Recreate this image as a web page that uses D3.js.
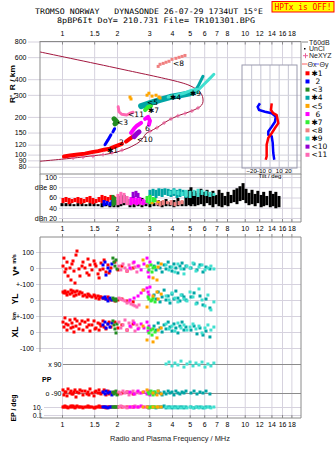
<!DOCTYPE html>
<html>
<head>
<meta charset="utf-8">
<script src="https://cdnjs.cloudflare.com/ajax/libs/d3/7.8.5/d3.min.js"></script>
<style>
  body { margin: 0; background: #fff; }
  svg { display: block; }
</style>
</head>
<body>
<div id="chart"></div>
<script>
// ---- axis values
const freqTicks = [1, 1.5, 2, 3, 4, 5, 6, 7, 8, 10, 12, 14, 16, 18]
const rangeTicks = [800, 600, 400, 300, 200, 150, 120, 100, 90, 80]
const ampTicks = [100, 80, 60, 40, 20]
const ampTickText = ["100", "dBe 80", "60", "40", "dBn 20"]
const tiltTicks = [-20, -10, 0, 10, 20]

// ---- echo groups
const clusterNames = ["✱1", "2", "<3", "✱4", "<5", "6", "✱7", "<8", "✱9", "<10", "<11"]
const clusterColors = ["#ff0000", "#0000ff", "#228b22", "#00a5a5", "#ffa500", "#ff00ff",
                       "#33ee33", "#f08080", "#40e0d0", "#9400d3", "#ff69b4"]

// ---- model profile [f MHz, R km] and NeXYZ points
const modelCurve = [[0.758, 660], [2.077, 484], [4.425, 378], [5.02, 355], [5.48, 330], [5.8, 304],
  [5.91, 278], [5.88, 256], [5.69, 241], [5.34, 229], [4.83, 216], [4.425, 207], [4.05, 196],
  [3.66, 181], [3.31, 164], [3.03, 153.5], [2.88, 147], [2.777, 136], [2.64, 125.6], [2.48, 118.9],
  [2.298, 112.6], [2.025, 105.6], [1.762, 100.9], [1.423, 97.3], [1.15, 93.8], [0.758, 88.5]]
const neXYZ = [[1.15, 94], [1.303, 95.5], [1.478, 97], [1.677, 100], [1.876, 103.7], [2.129, 108.5],
  [3.03, 153.5], [3.31, 164], [3.62, 179], [3.95, 193], [4.31, 204], [4.71, 213], [5.14, 223], [5.55, 236]]

// ---- ionogram traces [f MHz, R' km], one list of segments per group
const trace1 = [[[1.025, 96.4], [1.106, 98.2], [1.223, 100], [1.336, 101.8], [1.459, 104.7], [1.575, 106.6],
  [1.698, 109.5], [1.83, 111.6], [1.975, 117], [2.129, 122]],
  [[2.24, 127], [2.356, 134], [2.477, 141], [2.57, 147]]]
const trace2 = [[[1.719, 120], [1.785, 131], [1.853, 144]], [[1.9, 152], [1.94, 161]]]
const trace3 = [[[1.925, 193], [2.0, 182], [1.949, 176]]]
const trace4 = [[[2.71, 244], [3.03, 258], [3.44, 273], [3.9, 288], [4.42, 298], [5.02, 309], [5.41, 321]],
  [[5.28, 315], [5.55, 351], [5.76, 392], [5.91, 422]]]
const trace5 = [[[2.356, 288], [2.386, 278], [2.92, 298], [2.99, 309], [3.11, 293], [3.27, 298], [3.39, 288], [3.44, 283]]]
const trace6 = [[[2.386, 149], [2.48, 161], [2.57, 170], [2.71, 179]],
  [[2.85, 193], [2.958, 200], [3.03, 186], [2.99, 173]]]
const trace7 = [[[2.85, 227], [2.958, 240], [3.07, 244]]]
const trace8 = [[[3.36, 506], [3.44, 526], [3.58, 535], [3.71, 546], [3.85, 556], [4.0, 576], [4.2, 587],
  [4.37, 598], [4.54, 608], [4.71, 619]]]
const trace9 = [[[3.81, 288], [4.2, 298], [4.65, 309], [5.14, 327], [5.55, 333]],
  [[5.41, 315], [5.91, 358], [6.37, 399], [6.78, 438]]]
const trace10 = [[[2.48, 139], [2.57, 147], [2.64, 152]]]
const trace11 = [[[2.03, 241], [2.05, 220], [2.12, 210], [2.26, 207], [2.356, 214], [2.45, 218]]]
const echoLabelAt = [[1.762, 108.5], [2.05, 125], [2.0, 181], [3.9, 286], [2.92, 260], [2.85, 162],
  [2.958, 225], [4.05, 535], [5.02, 306], [2.57, 133], [2.3, 209]]

// ---- amplitude [f MHz, low dB, high dB]
const ampNoise = [[1.0, 43, 49], [1.052, 43, 49], [1.106, 43, 49], [1.163, 43, 47], [1.223, 43, 49],
  [1.287, 43, 49], [1.353, 43, 47], [1.423, 43, 49], [1.497, 43, 49], [1.575, 43, 47], [1.656, 41, 49],
  [1.741, 43, 49], [1.83, 41, 47], [1.925, 41, 49], [2.025, 41, 55], [2.1, 43, 63], [2.185, 45, 65],
  [2.356, 41, 57], [2.48, 41, 53], [2.607, 43, 55], [2.74, 41, 59], [2.88, 43, 51], [3.03, 41, 51],
  [3.19, 43, 49], [3.36, 43, 55], [3.53, 41, 53], [3.71, 43, 57], [3.9, 43, 51], [4.1, 41, 55],
  [4.31, 43, 59], [4.54, 43, 53], [4.77, 43, 63], [4.96, 45, 75], [5.08, 43, 80], [5.21, 47, 71],
  [5.34, 43, 73], [5.55, 45, 69], [5.76, 47, 77], [5.99, 43, 71], [6.22, 49, 75], [6.45, 45, 67],
  [6.7, 41, 73], [6.96, 47, 65], [7.23, 43, 75], [7.51, 41, 69], [7.8, 45, 63], [8.1, 43, 71],
  [8.41, 49, 65], [8.74, 51, 75], [9.07, 47, 78], [9.42, 53, 82], [9.79, 55, 88], [10.16, 49, 77],
  [10.55, 45, 69], [10.96, 47, 75], [11.4, 43, 67], [11.8, 49, 73], [12.3, 41, 65], [12.7, 43, 71],
  [13.2, 45, 63], [13.8, 41, 73], [14.3, 43, 67], [14.8, 39, 71], [15.4, 41, 63]]
const amp1 = [[1.013, 49, 59], [1.052, 51, 61], [1.093, 47, 59], [1.134, 49, 57], [1.178, 51, 59],
  [1.223, 49, 61], [1.27, 47, 59], [1.32, 49, 57], [1.37, 51, 61], [1.423, 49, 63], [1.477, 47, 59],
  [1.535, 49, 57], [1.595, 51, 61], [1.656, 49, 65], [1.719, 53, 63], [1.785, 51, 61], [1.853, 55, 65],
  [1.925, 53, 63]]
const amp2 = [[1.698, 43, 55], [1.762, 45, 53], [1.83, 43, 51], [1.876, 45, 55]]
const amp3 = [[1.9, 43, 65], [1.95, 45, 61]]
const amp4 = [[3.03, 61, 75], [3.15, 63, 77], [3.27, 59, 75], [3.39, 63, 78], [3.53, 61, 77], [3.66, 65, 78],
  [3.81, 63, 77], [3.95, 61, 75], [4.1, 63, 78], [4.26, 59, 75], [4.42, 61, 77], [4.6, 63, 75], [4.77, 59, 73]]
const amp5 = [[3.11, 47, 51], [3.36, 49, 53]]
const amp6 = [[2.386, 45, 61], [2.48, 47, 63], [2.57, 45, 59], [2.67, 47, 61], [2.78, 45, 57], [2.88, 47, 55]]
const amp7 = [[2.92, 49, 63], [3.03, 47, 65], [3.15, 49, 61], [3.23, 51, 59]]
const amp8 = [[3.31, 45, 55], [3.44, 43, 53], [3.58, 45, 55], [3.77, 47, 53], [3.95, 45, 55], [4.15, 43, 51],
  [4.37, 45, 53], [4.54, 47, 55]]
const amp9 = [[3.9, 65, 73], [4.1, 67, 76], [4.31, 65, 73], [4.54, 63, 71], [4.77, 61, 75], [5.02, 59, 73],
  [5.28, 63, 75], [5.55, 61, 77], [5.84, 65, 75], [6.14, 63, 73], [6.45, 61, 71], [6.78, 63, 69]]
const amp10 = [[2.45, 59, 71], [2.54, 61, 73], [2.607, 59, 69]]
const amp11 = [[2.025, 45, 67], [2.1, 47, 71], [2.185, 49, 69], [2.27, 45, 63], [2.356, 45, 57],
  [2.45, 47, 59], [2.54, 45, 55], [2.64, 47, 57], [2.74, 45, 53]]

// ---- echo parameters [f MHz, V* m/s, YL km, XL km, PP deg, EP deg]
const echoes1 = [[1.013, 12, 50, 62, -71, 10], [1.025, 62, 44, 31, -102, 10], [1.038, -25, 56, 88, -84, 18],
  [1.052, -6, 44, 50, -84, 10], [1.065, 37, 31, 12, -108, 10], [1.079, -50, 50, 44, -65, 6],
  [1.106, 0, 37, 75, -90, 10], [1.12, -75, 62, 25, -78, 18], [1.134, 25, 44, 56, -96, 10],
  [1.149, 44, 56, 31, -96, 18], [1.163, -19, 25, 0, -84, 10], [1.178, -94, 50, 81, -71, 6],
  [1.193, 81, 31, 37, -115, 10], [1.208, 106, 56, 69, -84, 18], [1.239, -6, 37, 19, -90, 10],
  [1.254, -50, 50, 50, -71, 10], [1.287, 12, 44, 69, -78, 10], [1.303, 37, 25, 12, -102, 6],
  [1.336, 0, 31, 62, -78, 10], [1.37, -31, 19, 31, -96, 10], [1.388, 56, 37, 75, -84, 18],
  [1.405, -44, 31, 44, -102, 10], [1.423, 19, 25, 6, -65, 10], [1.459, -12, 19, 44, -90, 10],
  [1.497, 44, 31, 69, -108, 6], [1.516, 25, 25, 19, -84, 6], [1.535, 12, 12, 25, -78, 10],
  [1.575, -37, 25, 56, -90, 10], [1.595, -62, 6, 12, -71, 18], [1.615, -12, 19, 50, -90, 10],
  [1.635, 31, 19, 37, -96, 10], [1.677, -6, 12, 69, -84, 10], [1.7, 50, 12, 31, -71, 10],
  [1.741, -25, 6, 19, -102, 6], [1.785, 19, 19, 50, -78, 10], [1.81, -31, 6, 62, -96, 10],
  [1.853, 0, 0, 31, -90, 10], [1.949, 37, -6, 62, -84, 10], [2.025, -12, 0, 25, -96, 10],
  [2.129, 12, 6, 44, -90, 10], [2.27, -19, -6, 12, -84, 10], [2.45, 0, -12, 50, -96, 10]]
const echoes2 = [[1.677, 19, 12, 44, -84, 10], [1.719, 37, 19, 62, -96, 10], [1.741, -44, 6, 25, -78, 10],
  [1.785, 0, -6, 50, -90, 6], [1.83, -19, 12, 31, -84, 10], [1.876, 25, 0, 56, -102, 10]]
const echoes3 = [[1.9, 62, 12, 69, -84, 10], [1.925, 37, 0, 44, -96, 10], [1.949, 12, 6, 19, -90, 10],
  [1.975, 50, -6, -6, -78, 10], [2.0, -6, 6, 50, -102, 10]]
const echoes4 = [[3.19, 12, 31, 37, -84, 10], [3.27, -12, 6, 12, -96, 6], [3.36, 31, 50, 56, -78, 10],
  [3.44, 0, -12, 25, -90, 10], [3.53, -25, 19, 0, -102, 10], [3.62, 19, 62, 44, -84, 18],
  [3.71, -6, 0, 19, -96, 6], [3.81, 37, 25, 62, -78, 10], [3.9, 6, -19, 31, -90, 10],
  [4.0, -19, 37, 6, -84, 6], [4.1, 25, 6, 50, -102, 10], [4.2, 0, 56, 25, -78, 10],
  [4.31, -31, 12, -6, -90, 6], [4.42, 12, -6, 37, -96, 10], [4.54, 31, 31, 62, -84, 10],
  [4.65, -6, 19, 12, -90, 6], [4.77, 12, 0, 31, -78, 10], [5.08, 0, 19, 12, -90, 10],
  [5.28, 25, 44, 37, -78, 6], [5.48, -12, -19, -12, -96, 10], [5.69, 19, 25, 25, -84, 10],
  [5.91, -25, -31, -19, -90, 6], [6.14, 6, 6, 6, -78, 10], [6.45, -6, -50, -31, -96, 10]]
const echoes5 = [[2.777, 50, 62, 37, -84, 10], [2.92, 12, -44, -50, -71, 10], [3.15, -62, 25, -62, -90, 10],
  [3.31, -75, 50, -37, -102, 10], [3.36, 6, 6, 12, -78, 10], [3.49, 25, 37, 25, -96, 10]]
const echoes6 = [[2.356, 0, 0, 37, -84, 10], [2.48, 37, 12, 56, -96, 10], [2.607, 12, 25, 19, -78, 10],
  [2.71, -12, 44, 50, -90, 18], [2.81, 25, 62, 25, -84, 10], [2.92, 62, 75, 62, -96, 10],
  [2.958, -25, 50, 6, -90, 10], [2.99, -56, 31, 37, -78, 6], [3.03, 37, 81, 19, -102, 10]]
const echoes7 = [[2.958, 12, 19, 25, -84, 10], [2.99, -12, 6, -6, -96, 6], [3.07, 19, -6, 12, -78, 10],
  [3.11, -25, 0, -19, -90, 10], [3.15, 0, 12, 19, -102, 10], [3.23, 6, -12, 0, -84, 10]]
const echoes9 = [[3.71, 19, 25, 50, 90, 10], [3.85, -12, 0, 19, 102, 6], [4.0, 6, 44, 37, 78, 10],
  [4.15, -25, 12, 6, 96, 6], [4.31, 25, -12, 56, 84, 10], [4.48, -6, 31, 25, 108, 6],
  [4.65, -37, 6, 44, 71, 10], [4.83, 12, -6, 12, 90, 6], [5.02, 0, 50, 31, 102, 10],
  [5.21, 31, 19, 50, 78, 6], [5.41, -19, -25, 19, 96, 10], [5.62, 6, 69, 37, 84, 6],
  [5.84, 19, 0, -6, 102, 10], [6.06, -12, -37, 25, 71, 6], [6.29, 0, 31, 44, 90, 10],
  [6.53, 12, -62, 12, 78, 6], [6.78, -6, -12, 31, 96, 10]]
const echoes11 = [[2.05, 12, 12, 62, -84, 10], [2.1, -12, 6, 25, -96, 18], [2.157, 25, 0, 44, -78, 10],
  [2.212, 0, -6, 75, -90, 10], [2.27, -19, -19, 12, -84, 6], [2.327, 19, -12, 56, -102, 10],
  [2.386, -6, -25, 31, -90, 10], [2.45, 31, -31, 69, -78, 10], [2.509, 6, -37, 6, -96, 18],
  [2.57, -25, -44, 44, -84, 10], [2.64, 12, -31, 25, -90, 10]]

// ---- tilt profiles [tilt deg, R km]
const tiltX = [[2.4, 257], [1.6, 227], [4.1, 214], [7.8, 207], [8.9, 189], [9.6, 178], [6, 163],
  [2.4, 148], [-1.3, 136], [-3.1, 120], [-3.1, 106], [-3.1, 97], [-4.1, 91]]
const tiltY = [[-10.4, 257], [-12.9, 241], [-11.4, 227], [-4.9, 220], [2.4, 214], [6.8, 201], [6, 183],
  [2.4, 167], [-1.3, 153], [-1.3, 144], [2.4, 140], [3.5, 124], [4.1, 103], [5.2, 91]]

// ================= drawing =================
const width = 335
const height = 451
const gridColor = "#d6d2de"
const frameColor = "#8a8a8a"
const sansFont = "'Liberation Sans', Arial, sans-serif"

const svg = d3.select("#chart").append("svg")
    .attr("width", width)
    .attr("height", height)
    .style("font-family", sansFont)

const x = d3.scaleLog().domain([0.758, 20.32]).range([40, 301])
const yR = d3.scaleLog().domain([70, 800]).range([174, 41.5])
const yAmp = d3.scaleLinear().domain([20, 100]).range([218, 177])
const yV = d3.scaleLinear().domain([-100, 100]).range([284, 252])
const yYL = d3.scaleLinear().domain([-100, 100]).range([316, 284])
const yXL = d3.scaleLinear().domain([-100, 100]).range([348, 316])
const yPP = d3.scaleLinear().domain([-90, 90]).range([393, 364])
const yEP = d3.scaleLog().domain([0.1, 10]).range([415, 407])
const xTilt = d3.scaleLinear().domain([-30, 30]).range([242, 297])

function styleAxis(g, size, lineColor) {
    g.attr("font-family", sansFont).attr("font-size", size)
    g.select(".domain").remove()
    g.selectAll(".tick line").attr("stroke", lineColor)
    g.selectAll(".tick text").attr("fill", "#000")
}

// vertical grid lines for the three panels
;[[41.5, 174], [174, 222], [237, 418]].forEach(([top, bottom]) => {
    svg.append("g")
        .attr("transform", `translate(0,${bottom})`)
        .call(d3.axisBottom(x).tickValues(freqTicks).tickFormat("").tickSizeInner(-(bottom - top)).tickSizeOuter(0))
        .call(g => styleAxis(g, 7, gridColor))
})

// horizontal grid + labels, upper panel
svg.append("g")
    .attr("transform", "translate(301,0)")
    .call(d3.axisLeft(yR).tickValues(rangeTicks).tickFormat(d => d).tickSize(273).tickPadding(1.5))
    .call(g => styleAxis(g, 7, gridColor))

// amplitude panel
svg.append("g")
    .attr("transform", "translate(301,0)")
    .call(d3.axisLeft(yAmp).tickValues(ampTicks).tickFormat((d, i) => ampTickText[i]).tickSize(242).tickPadding(2))
    .call(g => styleAxis(g, 7, gridColor))

// lower panels
svg.append("g")
    .attr("transform", "translate(301,0)")
    .call(d3.axisLeft(yV).tickValues([100, 0, -100]).tickFormat(d => d === -100 ? "+-100" : d).tickSize(265).tickPadding(2))
    .call(g => styleAxis(g, 7, gridColor))
svg.append("g")
    .attr("transform", "translate(301,0)")
    .call(d3.axisLeft(yYL).tickValues([0]).tickFormat(d => d).tickSize(265).tickPadding(2))
    .call(g => styleAxis(g, 7, gridColor))
svg.append("g")
    .attr("transform", "translate(301,0)")
    .call(d3.axisLeft(yXL).tickValues([100, 0, -100]).tickFormat(d => d === 100 ? "+-100" : d).tickSize(265).tickPadding(2))
    .call(g => styleAxis(g, 7, gridColor))
svg.append("g")
    .attr("transform", "translate(301,0)")
    .call(d3.axisLeft(yPP).tickValues([90, -90]).tickFormat(d => d > 0 ? "x 90" : "o -90").tickSize(238).tickPadding(1.5))
    .call(g => styleAxis(g, 7, "#8c8c8c"))
svg.append("g")
    .attr("transform", "translate(301,0)")
    .call(d3.axisLeft(yEP).tickValues([10, 0.1]).tickFormat(d => d === 10 ? "10." : "0.1").tickSize(257).tickPadding(1.5))
    .call(g => styleAxis(g, 7, gridColor))

// frames
const frame = svg.append("g").attr("stroke", frameColor).attr("fill", "none")
frame.append("rect").attr("x", 40).attr("y", 41.5).attr("width", 261).attr("height", 132.5)
frame.append("polyline").attr("points", "40,174 40,222 301,222 301,174")
frame.append("polyline").attr("points", "40,352 40,237 301,237 301,418 40,418 40,410")

// frequency tick labels and short ticks
function freqAxis(axisGen, y, pad, withText) {
    svg.append("g")
        .attr("transform", `translate(0,${y})`)
        .call(axisGen(x).tickValues(freqTicks).tickFormat(d => withText ? String(d) : "").tickSizeInner(-3).tickSizeOuter(0).tickPadding(pad))
        .call(g => styleAxis(g, 7, frameColor))
}
freqAxis(d3.axisTop, 41.5, 6, true)
freqAxis(d3.axisBottom, 222, 4, true)
freqAxis(d3.axisBottom, 237, 0, false)
freqAxis(d3.axisBottom, 418, 4.5, true)

// ---- model profile and NeXYZ markers
const modelLine = d3.line().x(d => x(d[0])).y(d => yR(d[1])).curve(d3.curveCatmullRom.alpha(0.5))
svg.append("path")
    .attr("d", modelLine(modelCurve))
    .attr("fill", "none")
    .attr("stroke", "#a3173f")
    .attr("stroke-width", 1)

svg.append("g").selectAll("path")
    .data(neXYZ)
    .join("path")
    .attr("d", d => `M${x(d[0]) - 2},${yR(d[1])}h4M${x(d[0])},${yR(d[1]) - 2}v4`)
    .attr("stroke", "#e8609a")
    .attr("stroke-width", 1)

// ---- ionogram traces
const traces = [trace1, trace2, trace3, trace4, trace5, trace6, trace7, trace8, trace9, trace10, trace11]
const traceWidths = [[4, 4], [3, 3], [5], [6, 3], [0], [4, 4], [4], [0], [3, 3], [5], [3]]
const traceOrder = [0, 1, 2, 10, 5, 9, 3, 8, 4, 6, 7]
const traceLine = d3.line().x(d => x(d[0])).y(d => yR(d[1]))
const ionoG = svg.append("g")
traceOrder.forEach(i => {
    traces[i].forEach((seg, j) => {
        const w = traceWidths[i][j]
        if (w > 0) {
            ionoG.append("path")
                .attr("d", traceLine(seg))
                .attr("fill", "none")
                .attr("stroke", clusterColors[i])
                .attr("stroke-width", w)
                .attr("stroke-linejoin", "round")
                .attr("stroke-linecap", "round")
        } else {
            ionoG.append("g").selectAll("rect")
                .data(seg)
                .join("rect")
                .attr("x", d => x(d[0]) - 1.5)
                .attr("y", d => yR(d[1]) - 1.5)
                .attr("width", 3)
                .attr("height", 3)
                .attr("fill", clusterColors[i])
        }
    })
})

svg.append("g").selectAll("text")
    .data(echoLabelAt)
    .join("text")
    .attr("x", d => x(d[0]))
    .attr("y", d => yR(d[1]))
    .attr("dy", "0.35em")
    .style("font-family", "'DejaVu Sans', sans-serif")
    .style("font-size", "7.5px")
    .attr("fill", "#000")
    .text((d, i) => clusterNames[i])

// ---- amplitude panel
const amps = [amp1, amp2, amp3, amp4, amp5, amp6, amp7, amp8, amp9, amp10, amp11]
function ampBars(data, color) {
    svg.append("g").selectAll("rect")
        .data(data)
        .join("rect")
        .attr("x", d => x(d[0]) - 1.5)
        .attr("y", d => yAmp(d[2]))
        .attr("width", 3)
        .attr("height", d => yAmp(d[1]) - yAmp(d[2]))
        .attr("fill", color)
}
ampBars(ampNoise, "#000")
;[0, 1, 2, 10, 5, 9, 7, 3, 8, 6, 4].forEach(i => ampBars(amps[i], clusterColors[i]))

// ---- lower scatter panels
const echoes = [echoes1, echoes2, echoes3, echoes4, echoes5, echoes6, echoes7, null, echoes9, null, echoes11]
const paramScales = [yV, yYL, yXL, yPP, yEP]
const lowerG = svg.append("g")
;[0, 1, 2, 10, 5, 3, 8, 6, 4].forEach(i => {
    paramScales.forEach((scale, k) => {
        lowerG.append("g").selectAll("rect")
            .data(echoes[i])
            .join("rect")
            .attr("x", d => x(d[0]) - 1.5)
            .attr("y", d => scale(d[k + 1]) - 1.5)
            .attr("width", 3)
            .attr("height", 3)
            .attr("fill", clusterColors[i])
    })
})

// ---- tilt inset
const inset = svg.append("g")
inset.append("rect")
    .attr("x", 242).attr("y", 65).attr("width", 55).attr("height", 103)
    .attr("fill", "#fff")
inset.append("g")
    .attr("transform", "translate(0,168)")
    .call(d3.axisBottom(xTilt).tickValues(tiltTicks).tickSizeInner(-103).tickSizeOuter(0).tickPadding(1))
    .call(g => styleAxis(g, 6, "#c4c4d2"))
inset.append("g")
    .attr("transform", "translate(297,0)")
    .call(d3.axisLeft(yR).tickValues(rangeTicks.filter(d => yR(d) > 66 && yR(d) < 167)).tickFormat("").tickSize(55))
    .call(g => styleAxis(g, 6, "#d2d2dc"))
inset.append("rect")
    .attr("x", 242).attr("y", 65).attr("width", 55).attr("height", 103)
    .attr("fill", "none").attr("stroke", "#9a9aae")
const tiltLine = d3.line().x(d => xTilt(d[0])).y(d => yR(d[1]))
inset.append("path").attr("d", tiltLine(tiltY)).attr("fill", "none").attr("stroke", "#0000ff").attr("stroke-width", 2.5)
inset.append("path").attr("d", tiltLine(tiltX)).attr("fill", "none").attr("stroke", "#ff0000").attr("stroke-width", 2.5)
inset.append("text")
    .attr("x", 270).attr("y", 178)
    .attr("text-anchor", "middle")
    .style("font-size", "6px")
    .text("Tilt / deg")

// ---- legend
const legend = svg.append("g").style("font-size", "7px").attr("fill", "#222")
legend.append("line").attr("x1", 302).attr("x2", 308).attr("y1", 42).attr("y2", 42).attr("stroke", "#888")
legend.append("text").attr("x", 309).attr("y", 44.5).text("T60dB")
legend.append("rect").attr("x", 304).attr("y", 48).attr("width", 1.5).attr("height", 1.5).attr("fill", "#000")
legend.append("text").attr("x", 309).attr("y", 51).text("UnCl")
legend.append("path").attr("d", "M303,55.7h5M305.5,53.2v5").attr("stroke", "#e8609a")
legend.append("text").attr("x", 309).attr("y", 58.2).text("NeXYZ")
legend.append("line").attr("x1", 302).attr("x2", 307).attr("y1", 64).attr("y2", 64).attr("stroke", "#ff6060")
legend.append("text").attr("x", 307.5).attr("y", 66.5).text("Θx")
legend.append("line").attr("x1", 314).attr("x2", 319).attr("y1", 64).attr("y2", 64).attr("stroke", "#6060ff")
legend.append("text").attr("x", 319.5).attr("y", 66.5).text("Θy")

const legendRows = legend.append("g").selectAll("g")
    .data(clusterNames)
    .join("g")
    .attr("transform", (d, i) => `translate(0,${73.3 + i * 8.15})`)
legendRows.append("rect")
    .attr("x", 305.5).attr("y", -2).attr("width", 4).attr("height", 4)
    .attr("fill", (d, i) => clusterColors[i])
legendRows.append("text")
    .attr("x", d => /^\d/.test(d) ? 315.5 : 311.5)
    .attr("dy", "0.35em")
    .style("font-family", "'DejaVu Sans', sans-serif")
    .style("font-size", "7.5px")
    .attr("fill", "#000")
    .text(d => d)

// ---- axis titles
function rotLabel(text, cx, cy, size, len) {
    const t = svg.append("text")
        .attr("transform", `translate(${cx},${cy}) rotate(-90)`)
        .attr("text-anchor", "middle")
        .attr("dy", "0.35em")
        .style("font-size", size + "px")
        .style("font-weight", "bold")
        .text(text)
    if (len) t.attr("textLength", len).attr("lengthAdjust", "spacingAndGlyphs")
}
rotLabel("R', R / km", 12, 84, 7.5, 38)
rotLabel("V*", 15.5, 271, 9)
rotLabel("m/s", 14.5, 259, 5.5)
rotLabel("YL", 15.5, 299, 8.5)
rotLabel("km", 14.5, 316, 5.5)
rotLabel("XL", 15.5, 332, 8.5)
rotLabel("EP / deg", 14, 408, 7, 27)

svg.append("text")
    .attr("x", 42).attr("y", 381.5)
    .style("font-size", "7px")
    .style("font-weight", "bold")
    .text("PP")

svg.append("text")
    .attr("x", 170).attr("y", 441)
    .attr("text-anchor", "middle")
    .attr("textLength", 120)
    .attr("lengthAdjust", "spacingAndGlyphs")
    .style("font-size", "8px")
    .attr("fill", "#222")
    .text("Radio and Plasma Frequency / MHz")

// ---- header
const mono = "'DejaVu Sans Mono', monospace"
svg.append("text")
    .attr("x", 35).attr("y", 14.2)
    .attr("textLength", 228).attr("lengthAdjust", "spacingAndGlyphs")
    .style("font-family", mono).style("font-size", "7.6px").style("white-space", "pre")
    .text("TROMSO NORWAY   DYNASONDE 26-07-29 1734UT 15°E")
svg.append("text")
    .attr("x", 57).attr("y", 23.2)
    .attr("textLength", 198).attr("lengthAdjust", "spacingAndGlyphs")
    .style("font-family", mono).style("font-size", "7.6px").style("white-space", "pre")
    .text("8pBP6It DoY= 210.731 File= TR101301.BPG")

svg.append("rect")
    .attr("x", 272).attr("y", 1.5).attr("width", 62).attr("height", 10.5)
    .attr("fill", "#ffff00").attr("stroke", "#ff0000")
svg.append("text")
    .attr("x", 274.5).attr("y", 10)
    .attr("textLength", 57).attr("lengthAdjust", "spacingAndGlyphs")
    .style("font-family", mono).style("font-size", "8px").style("white-space", "pre")
    .attr("fill", "#ff0000")
    .text("HPTx is OFF!")
</script>
</body>
</html>
